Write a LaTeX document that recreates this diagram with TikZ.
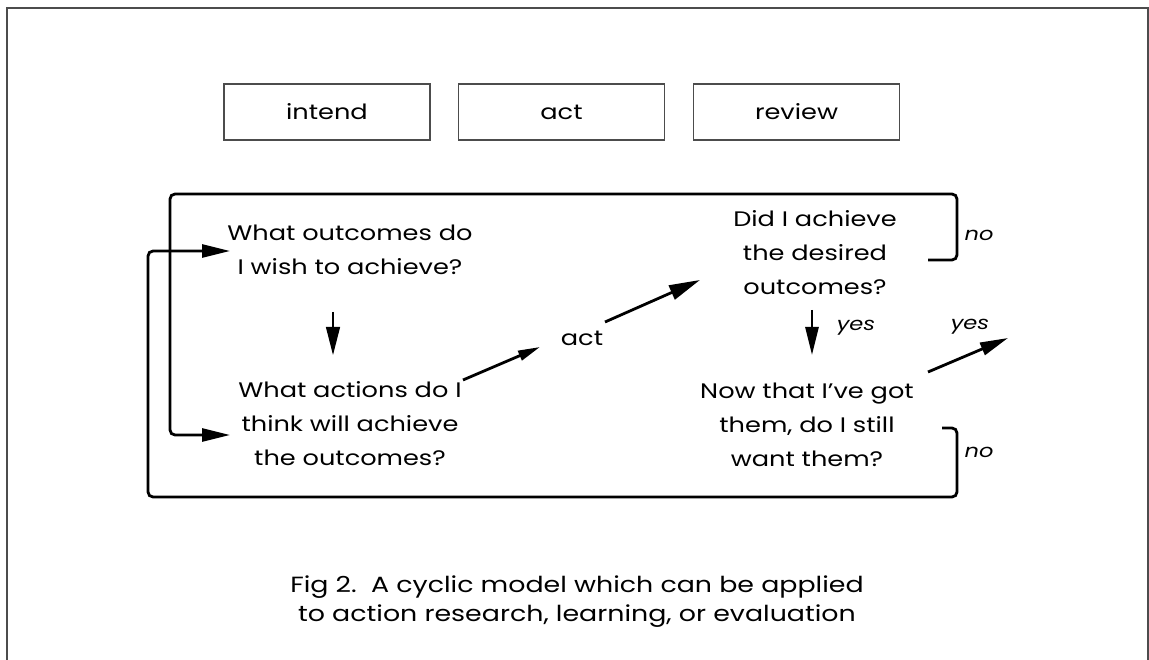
\documentclass[tikz,border=0pt]{standalone}
\usepackage{fontspec}
\setmainfont{Poppins}[FakeStretch=1.22]
\usetikzlibrary{arrows.meta}

\tikzset{
  question/.style={inner sep=0pt, align=center, font=\fontsize{21}{34}\selectfont},
  stage/.style={draw=black!70, line width=1.3pt, minimum width=206pt, minimum height=56pt, font=\fontsize{21}{24}\selectfont},
  answer/.style={inner sep=0pt, font=\fontsize{18.5}{20}\selectfont\itshape},
  loopline/.style={line width=2.8pt, rounded corners=5pt, -{Triangle[length=28pt, width=13pt]}},
  bigarrow/.style={line width=2.8pt, -{Triangle[length=28pt, width=13pt]}},
}

\begin{document}
\begin{tikzpicture}[x=1pt, y=-1pt]
\useasboundingbox (0,0) rectangle (1149,660);
\draw [black!70, line width=1.8pt] (7,660) -- (7,8) -- (1148,8) -- (1148,660);

\node [stage] (intend) at (327,112) {intend};
\node [stage] (actbox) at (561.5,112) {act};
\node [stage] (review) at (796.5,112) {review};

\node [question] (Q1) at (350,250) {What outcomes do\\I wish to achieve?};
\node [question] (Q2) at (350,424) {What actions do I\\think will achieve\\the outcomes?};
\node [question] (Q3) at (815,253) {Did I achieve\\the desired\\outcomes?};
\node [question] (Q4) at (807,425) {Now that I've got\\them, do I still\\want them?};
\node [question] (act) at (582,338) {act};

\draw [line width=1.2pt, -{Triangle[length=28pt, width=14pt]}]
      ([shift={(-17,62)}]Q1.center) -- ([shift={(-17,-69)}]Q2.center);
\draw [line width=2.8pt, -{Triangle[length=22pt, width=10pt]}]
      ([shift={(113,-44)}]Q2.center) -- ([shift={(-42,9)}]act.center);
\draw [bigarrow, -{Triangle[length=31pt, width=15pt]}]
      ([shift={(23,-16)}]act.center) -- ([shift={(-115,27)}]Q3.center);
\draw [bigarrow] ([shift={(-3,57)}]Q3.center) -- ([shift={(-3,102)}]Q3.center);
\node [answer] at (856,328) {yes};
\draw [bigarrow] ([shift={(121,-53)}]Q4.center) -- (1008,338) coordinate (out);
\node [answer] at (970,327) {yes};

\draw [loopline] ([shift={(113,7)}]Q3.center) -- ++(29,0) -- ++(0,-66)
      -- (170,194) -- (170,435) -- ([shift={(-120,11)}]Q2.center);
\node [answer] at (979,235) {no};
\draw [loopline] ([shift={(135,3)}]Q4.center) -- ++(15,0) -- ++(0,69)
      -- (148,497) -- (148,251) -- ([shift={(-120,1)}]Q1.center);
\node [answer] at (979,452) {no};

\node [align=center, font=\fontsize{22}{29}\selectfont] (caption) at (577,602)
      {Fig 2.\ \ A cyclic model which can be applied\\to action research, learning, or evaluation};
\end{tikzpicture}
\end{document}
